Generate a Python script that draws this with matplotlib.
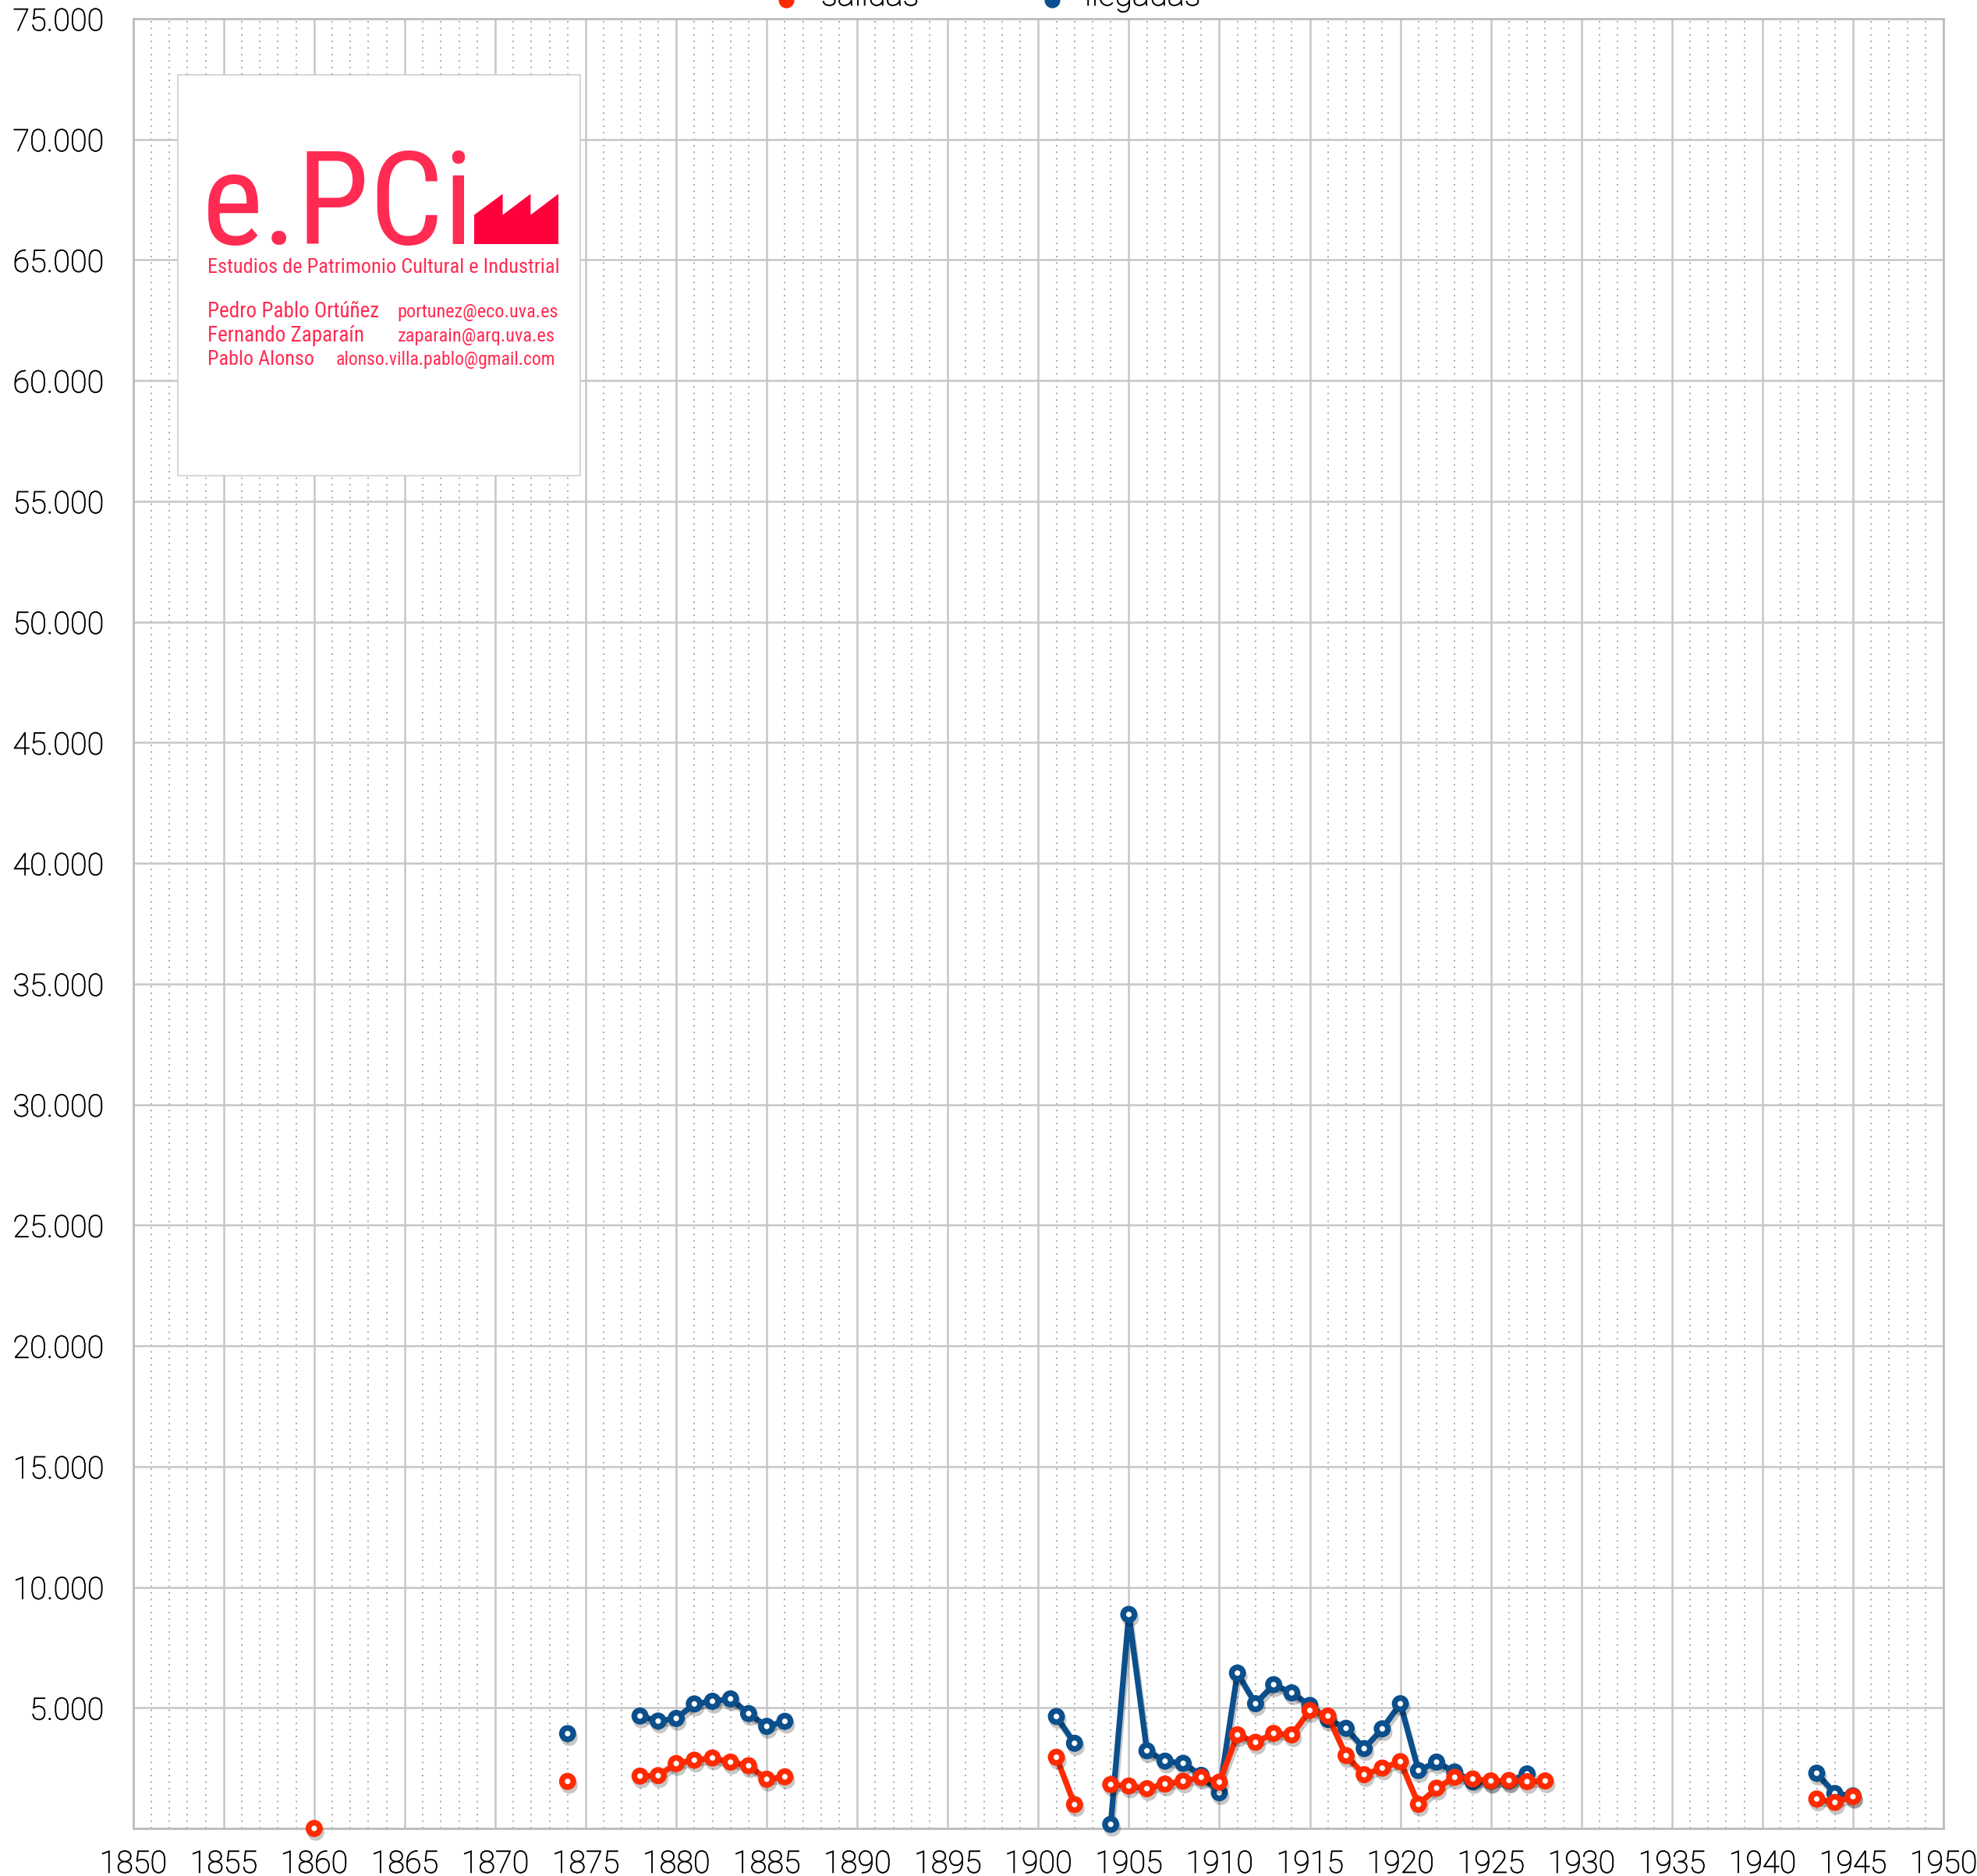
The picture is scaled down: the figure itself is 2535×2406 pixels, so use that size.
import numpy as np
import matplotlib
matplotlib.use("Agg")
import matplotlib.pyplot as plt
import matplotlib.patheffects as pe
from matplotlib.patches import Rectangle, Polygon
from matplotlib.lines import Line2D
from matplotlib.ticker import MultipleLocator, FuncFormatter
from matplotlib import font_manager

W, H = 2535, 2406
DPI = 100

# --- datos ---
anos_salidas = [1860, 1874,
                1878, 1879, 1880, 1881, 1882, 1883, 1884, 1885, 1886,
                1901, 1902,
                1904, 1905, 1906, 1907, 1908, 1909, 1910, 1911, 1912, 1913,
                1914, 1915, 1916, 1917, 1918, 1919, 1920, 1921, 1922, 1923,
                1924, 1925, 1926, 1927, 1928,
                1943, 1944, 1945]
salidas = [0, 1950,
           2170, 2190, 2690, 2830, 2920, 2750, 2600, 2040, 2140,
           2950, 990,
           1820, 1760, 1650, 1840, 1960, 2120, 1920, 3880, 3570, 3940,
           3880, 4890, 4660, 3020, 2230, 2500, 2770, 1000, 1670, 2120,
           2050, 1970, 1990, 1940, 1970,
           1220, 1080, 1320]

anos_llegadas = [1874,
                 1878, 1879, 1880, 1881, 1882, 1883, 1884, 1885, 1886,
                 1901, 1902,
                 1904, 1905, 1906, 1907, 1908, 1909, 1910, 1911, 1912, 1913,
                 1914, 1915, 1916, 1917, 1918, 1919, 1920, 1921, 1922, 1923,
                 1924, 1925, 1926, 1927,
                 1943, 1944, 1945]
llegadas = [3930,
            4660, 4450, 4560, 5160, 5270, 5370, 4760, 4230, 4440,
            4640, 3530,
            170, 8870, 3220, 2790, 2700, 2200, 1480, 6440, 5170, 5960,
            5620, 5100, 4520, 4150, 3310, 4130, 5170, 2400, 2750, 2340,
            1940, 1950, 1960, 2260,
            2290, 1450, 1350]

etiquetas = ["salidas", "llegadas"]
colores = ["#ff2a00", "#0b4f8c"]


def con_huecos(anos, vals):
    # corta la linea donde faltan anos
    x, y = [], []
    for i, (a, v) in enumerate(zip(anos, vals)):
        if i > 0 and a - anos[i - 1] > 1:
            x.append(np.nan)
            y.append(np.nan)
        x.append(a)
        y.append(v)
    return x, y


def fx(px):
    return px / W


def fy(py):
    return 1 - py / H


def busca_estrecha():
    # una fuente estrecha tipo Helvetica Narrow, si la hay
    fl = font_manager.fontManager.ttflist
    normal = lambda f: f.style == "normal" and f.weight in (400, "normal", "regular")
    for nombre in ["Liberation Sans Narrow", "Arial Narrow", "Roboto Condensed",
                   "Open Sans Condensed", "Noto Sans Condensed", "DejaVu Sans Condensed"]:
        for f in fl:
            if f.name == nombre and normal(f):
                return font_manager.FontProperties(fname=f.fname)
    for f in fl:
        if (f.stretch in ("condensed", "semi-condensed") and normal(f)
                and "Mono" not in f.name and "Serif" not in f.name):
            return font_manager.FontProperties(fname=f.fname)
    return font_manager.FontProperties(family="Liberation Sans")


estrecha = busca_estrecha()
fuente = "Roboto"
# Roboto Light un poco engrosada, parecida a Helvetica Neue Light
grosor = [pe.withStroke(linewidth=0.55, foreground="black")]

fig = plt.figure(figsize=(W / DPI, H / DPI), dpi=DPI)
ax = fig.add_axes([fx(170.7), fy(2345), (2492 - 170.7) / W, (2345 - 24) / H])

ax.set_xlim(1850, 1950)
ax.set_ylim(0, 75000)
ax.xaxis.set_major_locator(MultipleLocator(5))
ax.xaxis.set_minor_locator(MultipleLocator(1))
ax.yaxis.set_major_locator(MultipleLocator(5000))
ax.yaxis.set_major_formatter(FuncFormatter(
    lambda v, p: "" if v == 0 else f"{int(v):,}".replace(",", ".")))

ax.grid(which="major", color="#c6c6c6", lw=1.8)
ax.grid(which="minor", axis="x", color="#a8a8a8", lw=1.4, linestyle=(0, (1, 3.3)))
ax.set_axisbelow(True)
ax.tick_params(which="both", length=0)
ax.tick_params(axis="x", pad=19)
ax.tick_params(axis="y", pad=27)
for lab in ax.get_xticklabels() + ax.get_yticklabels():
    lab.set_fontfamily(fuente)
    lab.set_fontweight("light")
    lab.set_fontsize(28.5)
    lab.set_color("black")
    lab.set_path_effects(grosor)
for s in ax.spines.values():
    s.set_color("#bdbdbd")
    s.set_linewidth(2)

sombra = [pe.SimpleLineShadow(offset=(1.5, -3.5), shadow_color="k", alpha=0.22), pe.Normal()]

series = [(anos_salidas, salidas), (anos_llegadas, llegadas)]
for (anos, vals), col, z in zip(series, colores, [4, 3]):
    x, y = con_huecos(anos, vals)
    ax.plot(x, y, color=col, lw=5.3, marker="o", ms=10.5, mfc="white", mec=col, mew=5.3,
            solid_joinstyle="round", solid_capstyle="round",
            path_effects=sombra, clip_on=False, zorder=z)

# leyenda (cortada arriba, como en el original)
for lab, col, xm, xt in zip(etiquetas, colores, [1008, 1349], [1053, 1391]):
    fig.add_artist(Line2D([fx(xm)], [fy(0)], transform=fig.transFigure, marker="o",
                          ms=13.5, color=col, linestyle="none"))
    fig.text(fx(xt), fy(7), lab, fontsize=30, family=fuente, weight="light",
             va="baseline", ha="left", color="black", path_effects=grosor)

# recuadro del logo
rojo = "#ff2b52"
fig.add_artist(Rectangle((fx(228), fy(610)), (744 - 228) / W, (610 - 95.5) / H,
                         transform=fig.transFigure, fc="white", ec="#cfcfcf",
                         lw=1.2, zorder=5))
fabrica = [(608, 275.6), (644.6, 248.7), (644.6, 275.6), (680.4, 248.7),
           (680.4, 275.6), (716, 248.7), (716, 313), (608, 313)]
fig.add_artist(Polygon([(fx(a), fy(b)) for a, b in fabrica], closed=True,
                       transform=fig.transFigure, fc="#ff003d", ec="none", zorder=6))

# (texto, x izquierda, linea base, ancho en el original, tamano maximo)
textos_logo = [
    ("e.PCi", 259, 313, 349, 131),
    ("Estudios de Patrimonio Cultural e Industrial", 266, 350.3, 452, 19),
    ("Pedro Pablo Ortúñez", 266, 407, 219.7, 19),
    ("portunez@eco.uva.es", 509, 407, 207, 19),
    ("Fernando Zaparaín", 266, 438, 201, 19),
    ("zaparain@arq.uva.es", 510, 438, 202.5, 19),
    ("Pablo Alonso", 266, 468.4, 137, 19),
    ("alonso.villa.pablo@gmail.com", 431, 468.4, 281.5, 19),
]
hechos = []
for txt, x0, yb, ancho, tam in textos_logo:
    t = fig.text(fx(x0), fy(yb), txt, fontproperties=estrecha, fontsize=tam,
                 color=rojo, va="baseline", ha="left", zorder=6)
    hechos.append((t, x0, ancho, tam))

# ajusta cada texto al ancho que tiene en el original
fig.canvas.draw()
r = fig.canvas.get_renderer()
for t, x0, ancho, tam in hechos:
    t.set_fontsize(tam * min(1.08, ancho / t.get_window_extent(r).width))
fig.canvas.draw()
for t, x0, ancho, tam in hechos:
    bb = t.get_window_extent(r)
    t.set_x(t.get_position()[0] + (x0 - bb.x0) / W)

fig.savefig("out.png", dpi=DPI)
